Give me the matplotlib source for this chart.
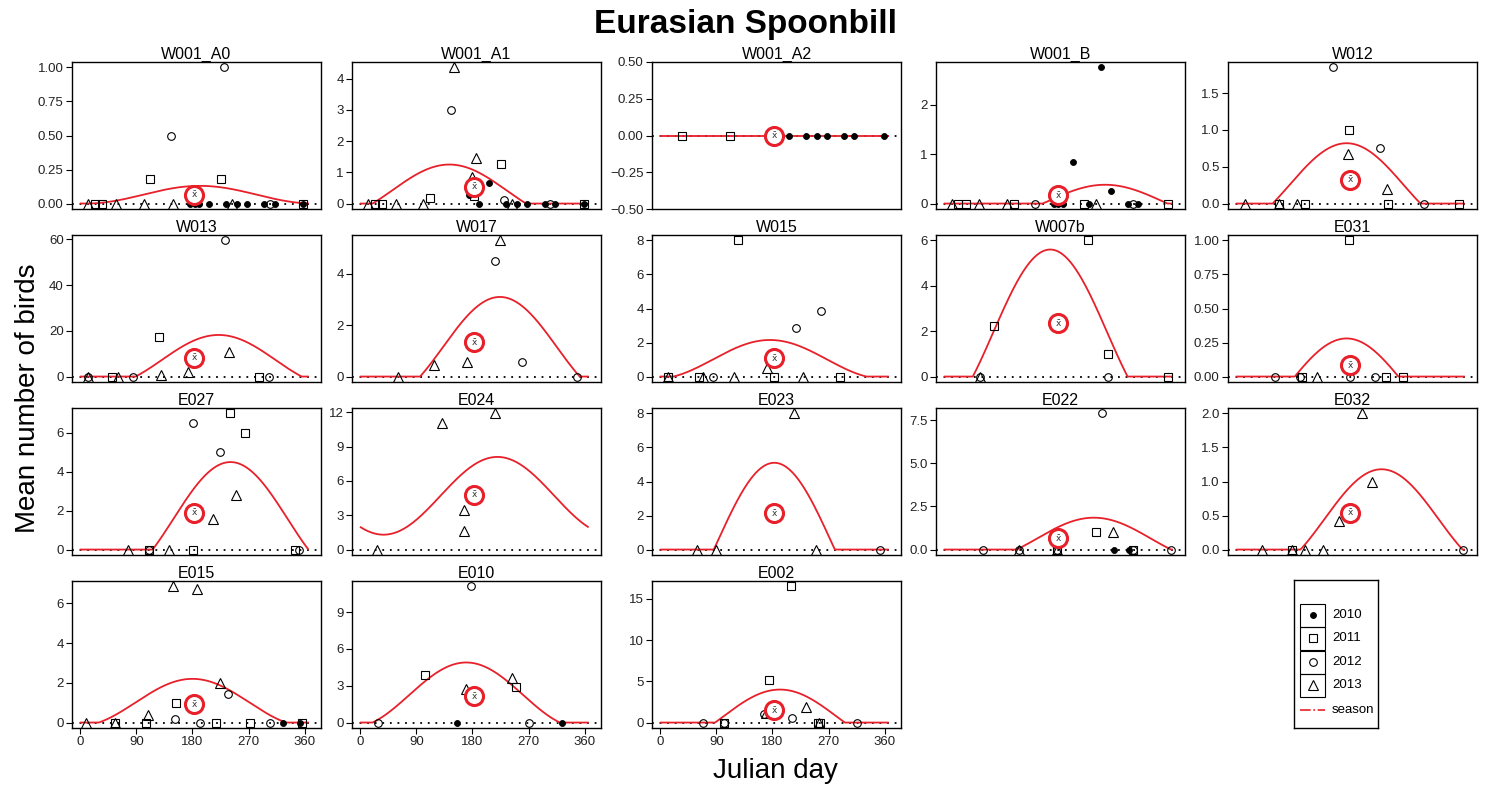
import numpy as np
import matplotlib.pyplot as plt
from matplotlib.patches import Rectangle
from matplotlib.ticker import MultipleLocator, FuncFormatter

plt.rcParams['font.family'] = ['Liberation Sans', 'DejaVu Sans']

# observations per site: year -> [(julian day, mean count), ...]
w001_a0 = {2010: [(176, 0), (184, 0), (190, 0), (206, 0), (234, 0), (251, 0), (267, 0), (295, 0), (312, 0), (357, 0)],
           2011: [(24, 0), (35, 0), (112, 0.18), (225, 0.18), (357, 0)],
           2012: [(145, 0.5), (231, 1.0), (305, 0)],
           2013: [(13, 0), (57, 0), (102, 0), (149, 0), (243, 0)]}
w001_a1 = {2010: [(175, 0.28), (191, 0), (206, 0.67), (234, 0), (251, 0), (267, 0), (296, 0), (312, 0), (358, 0)],
           2011: [(24, 0), (35, 0), (112, 0.17), (183, 0.23), (225, 1.28), (358, 0)],
           2012: [(146, 3.0), (231, 0.1), (304, 0)],
           2013: [(13, 0), (57, 0), (101, 0), (150, 4.36), (180, 0.85), (185, 1.45), (243, 0)]}
w001_a2 = {2010: [(206, 0), (234, 0), (251, 0), (267, 0), (295, 0), (311, 0), (358, 0)],
           2011: [(35, 0), (112, 0)]}
w001_b = {2010: [(176, 0), (183, 0), (190, 0), (206, 0.83), (232, 0), (251, 2.75), (267, 0.25), (295, 0), (311, 0)],
          2011: [(23, 0), (35, 0), (112, 0), (224, 0), (358, 0)],
          2012: [(145, 0), (303, 0)],
          2013: [(12, 0), (56, 0), (100, 0), (243, 0)]}
w012 = {2011: [(69, 0), (110, 0), (181, 1.0), (244, 0), (357, 0)],
        2012: [(156, 1.85), (230, 0.75), (301, 0)],
        2013: [(14, 0), (69, 0), (97, 0), (180, 0.68), (241, 0.2)]}
w013 = {2011: [(51, 0), (127, 17.3), (287, 0)],
        2012: [(12, 0), (85, 0), (232, 59.5), (303, 0)],
        2013: [(12, 0), (61, 0), (129, 0.8), (173, 1.9), (238, 10.7)]}
w017 = {2012: [(216, 4.5), (260, 0.57), (348, 0)],
        2013: [(60, 0), (118, 0.46), (172, 0.58), (224, 5.3)]}
w015 = {2011: [(13, 0), (62, 0), (125, 8.0), (182, 0), (288, 0)],
        2012: [(84, 0), (217, 2.85), (258, 3.87)],
        2013: [(13, 0), (69, 0), (119, 0), (171, 0.5), (229, 0)]}
w007b = {2011: [(80, 2.25), (231, 6.0), (263, 1.0), (359, 0)],
         2012: [(58, 0), (263, 0)],
         2013: [(58, 0)]}
e031 = {2011: [(106, 0), (181, 1.0), (240, 0), (268, 0)],
        2012: [(62, 0), (103, 0), (182, 0), (223, 0)],
        2013: [(129, 0)]}
e027 = {2011: [(110, 0), (181, 0), (240, 7.0), (265, 6.0), (345, 0)],
        2012: [(110, 0), (181, 6.5), (224, 5.0), (351, 0)],
        2013: [(76, 0), (143, 0), (213, 1.55), (249, 2.8)]}
e024 = {2013: [(27, 0), (131, 11.1), (166, 3.45), (166, 1.6), (216, 11.9)]}
e023 = {2012: [(352, 0)],
        2013: [(59, 0), (89, 0), (214, 8.0), (249, 0)]}
e022 = {2010: [(273, 0), (297, 0)],
        2011: [(181, 0), (243, 1.0), (302, 0)],
        2012: [(62, 0), (120, 0), (181, 0), (253, 7.9), (302, 0), (363, 0)],
        2013: [(120, 0), (181, 0), (270, 1.0)]}
e032 = {2011: [(89, 0)],
        2012: [(363, 0)],
        2013: [(41, 0), (89, 0), (110, 0), (139, 0), (165, 0.42), (201, 2.0), (217, 1.0)]}
e015 = {2010: [(325, 0), (352, 0)],
        2011: [(56, 0), (105, 0), (153, 0.96), (217, 0), (272, 0), (355, 0)],
        2012: [(152, 0.2), (192, 0), (237, 1.45), (304, 0)],
        2013: [(9, 0), (56, 0), (109, 0.4), (149, 6.85), (187, 6.7), (224, 2.0)]}
e010 = {2010: [(155, 0), (323, 0)],
        2011: [(104, 3.9), (249, 2.9)],
        2012: [(29, 0), (177, 11.1), (270, 0)],
        2013: [(169, 2.7), (243, 3.6)]}
e002 = {2011: [(102, 0), (174, 5.1), (209, 16.5), (253, 0), (257, 0)],
        2012: [(69, 0), (102, 0), (166, 1.0), (211, 0.6), (315, 0)],
        2013: [(169, 1.1), (233, 1.9), (254, 0)]}

sites = ['W001_A0', 'W001_A1', 'W001_A2', 'W001_B', 'W012',
         'W013', 'W017', 'W015', 'W007b', 'E031',
         'E027', 'E024', 'E023', 'E022', 'E032',
         'E015', 'E010', 'E002']
site_obs = [w001_a0, w001_a1, w001_a2, w001_b, w012,
            w013, w017, w015, w007b, e031,
            e027, e024, e023, e022, e032,
            e015, e010, e002]

# fitted seasonal curve: mean + amplitude * cos(peak day), floored at 0
season_mean = [0.065, 0.427, 0, 0.05, 0.255, 7.23, 1.15, 1.01, 1.95, -0.046,
               1.59, 4.7, 0.46, 0.64, 0.45, 1.01, 2.25, 0.71]
season_amp = [0.065, 0.823, 0, 0.33, 0.565, 10.96, 1.95, 1.14, 3.65, 0.326,
              2.91, 3.4, 4.64, 1.21, 0.73, 1.19, 2.65, 3.29]
season_peak = [192, 143, 180, 258, 177, 222, 224, 176, 170, 177,
               241, 220, 183, 240, 233, 180, 170, 192]

xbar = [0.065, 0.53, 0, 0.165, 0.325, 8.3, 1.34, 1.07, 2.34, 0.083,
        1.88, 4.78, 2.13, 0.65, 0.54, 0.91, 2.15, 1.49]
xbar_day = 183

ytick_step = [0.25, 1, 0.25, 1, 0.5, 20, 2, 2, 2, 0.25,
              2, 3, 2, 2.5, 0.5, 2, 3, 5]

years = [2010, 2011, 2012, 2013]
year_style = {2010: dict(marker='o', ms=4.3, mfc='black', mec='black', mew=0.6),
              2011: dict(marker='s', ms=5.5, mfc='none', mec='black', mew=0.8),
              2012: dict(marker='o', ms=5.5, mfc='none', mec='black', mew=0.8),
              2013: dict(marker='^', ms=7, mfc='none', mec='black', mew=0.8)}
day_ticks = [0, 90, 180, 270, 360]

RED = '#e8202a'
W, H = 1491, 787
fig = plt.figure(figsize=(W / 100, H / 100), dpi=100)


def frac(x, y, w, h):
    return [x / W, 1 - (y + h) / H, w / W, h / H]


col_left = [72, 352, 652, 936, 1228]
row_top = [62, 235, 408, 581]
days = np.arange(1, 366)

for i, site in enumerate(sites):
    r, c = divmod(i, 5)
    ax = fig.add_axes(frac(col_left[c], row_top[r], 249, 147))
    obs = site_obs[i]

    ax.axhline(0, color='black', ls=(0, (1, 3.2)), lw=1.3, zorder=1)
    curve = np.maximum(0, season_mean[i] + season_amp[i] *
                       np.cos(2 * np.pi * (days - season_peak[i]) / 365))
    ax.plot(days, curve, color=RED, lw=1.3, zorder=2)

    vals = []
    for yr in years:
        if yr not in obs:
            continue
        d = [p[0] for p in obs[yr]]
        v = [p[1] for p in obs[yr]]
        vals += v
        ax.plot(d, v, ls='none', zorder=3, **year_style[yr])

    ax.plot(xbar_day, xbar[i], 'o', ms=13, mfc='white', mec=RED, mew=2.2, zorder=4)
    ax.text(xbar_day, xbar[i], r'$\bar{\mathrm{x}}$', fontsize=6.5, ha='center',
            va='center', color='#333333', zorder=5)

    lo, hi = min(0, min(vals)), max(vals)
    if hi == lo:
        ax.set_ylim(-0.5, 0.5)
    else:
        pad = 0.04 * (hi - lo)
        ax.set_ylim(lo - pad, hi + pad)
    ax.set_xlim(-13, 386)

    step = ytick_step[i]
    dec = len(str(step).split('.')[1]) if '.' in str(step) else 0
    ax.yaxis.set_major_locator(MultipleLocator(step))
    ax.yaxis.set_major_formatter(FuncFormatter(
        lambda v, p, dec=dec: f'{v:.{dec}f}'.replace('-', '\u2212')))

    if i >= 15:
        ax.set_xticks(day_ticks)
    else:
        ax.set_xticks([])
    ax.tick_params(direction='out', length=4, width=0.8, labelsize=9.5,
                   labelcolor='#222222', pad=2)
    for s in ax.spines.values():
        s.set_linewidth(1.0)
    ax.set_title(site, fontsize=11.5, pad=2)

# legend
lax = fig.add_axes(frac(1294, 580, 84, 148))
lax.set_xlim(0, 84)
lax.set_ylim(148, 0)
lax.set_xticks([])
lax.set_yticks([])
for s in lax.spines.values():
    s.set_linewidth(1.0)
leg_y = [35, 58, 82, 105]
for yr, y in zip(years, leg_y):
    lax.add_patch(Rectangle((6, y - 11.5), 25, 23, fill=False, lw=0.8, ec='black'))
    lax.plot(18.5, y, ls='none', **year_style[yr])
    lax.text(38, y, str(yr), fontsize=9.5, va='center', ha='left')
lax.plot([6, 31], [130, 130], color=RED, lw=1.2, ls='-.')
lax.text(38, 130, 'season', fontsize=9.5, va='center', ha='left')

fig.text(0.5, 1 - 24 / H, 'Eurasian Spoonbill', ha='center', va='center',
         fontsize=24, fontweight='bold')
fig.text(28 / W, 1 - 398 / H, 'Mean number of birds', ha='center', va='center',
         rotation=90, fontsize=20)
fig.text(775 / W, 1 - 771 / H, 'Julian day', ha='center', va='center', fontsize=20)

fig.savefig('out.png', dpi=100)
